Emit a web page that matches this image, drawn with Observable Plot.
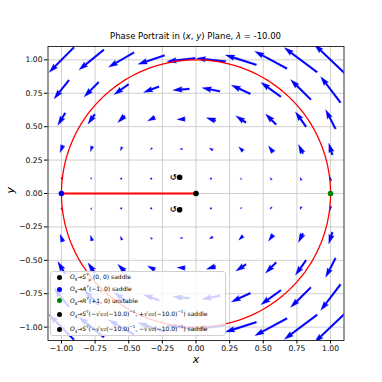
<!DOCTYPE html>
<html><head><meta charset="utf-8">
<script src="https://cdn.jsdelivr.net/npm/d3@7"></script>
<script src="https://cdn.jsdelivr.net/npm/@observablehq/plot@0.6"></script>
<style>
body{margin:0;background:#fff;font-family:"DejaVu Sans",sans-serif;}
#wrap{position:relative;width:382px;height:382px;overflow:hidden;}
#wrap svg{position:absolute;left:0;top:0;}
.t{position:absolute;white-space:nowrap;color:#000;}
#title{left:0;width:391px;top:31px;text-align:center;font-size:8.5px;}
#legend{position:absolute;left:50px;top:271px;width:176px;height:65px;background:rgba(255,255,255,0.8);border:1px solid #d0d0d0;border-radius:3px;box-sizing:border-box;}
.row{position:absolute;left:0;font-size:6px;line-height:6px;white-space:nowrap;}
.mk{position:absolute;left:6px;width:5px;height:5px;border-radius:50%;}
.lt{position:absolute;left:19px;}
sub,sup{font-size:4px;line-height:0;}
.fr{font-size:4px;}
</style></head><body><div id="wrap"><div id="title" class="t">Phase Portrait in (<i>x</i>, <i>y</i>) Plane, <i>λ</i> = -10.00</div></div>
<script>
// ---- data ----
const gridX = [-1, -0.778, -0.556, -0.333, -0.111, 0.111, 0.333, 0.556, 0.778, 1];
const gridY = [1, 0.778, 0.556, 0.333, 0.111, -0.111, -0.333, -0.556, -0.778, -1];
// arrow components (data units of displayed arrow length), one row per gridY
const U = [
  [-0.185,-0.186,-0.190,-0.198,-0.210,-0.219,-0.232,-0.240,-0.245,-0.240],
  [-0.112,-0.109,-0.110,-0.116,-0.124,-0.134,-0.142,-0.149,-0.151,-0.148],
  [-0.056,-0.052,-0.052,-0.056,-0.062,-0.070,-0.076,-0.080,-0.080,-0.074],
  [-0.021,-0.013,-0.012,-0.015,-0.021,-0.027,-0.033,-0.036,-0.034,-0.027],
  [-0.002, 0.006, 0.008, 0.005, 0.001,-0.006,-0.011,-0.013,-0.011,-0.003],
  [-0.002, 0.006, 0.008, 0.005, 0.001,-0.006,-0.011,-0.013,-0.011,-0.003],
  [-0.021,-0.013,-0.012,-0.015,-0.021,-0.027,-0.033,-0.036,-0.034,-0.027],
  [-0.056,-0.052,-0.052,-0.056,-0.062,-0.070,-0.076,-0.080,-0.080,-0.074],
  [-0.112,-0.109,-0.110,-0.116,-0.124,-0.134,-0.142,-0.149,-0.151,-0.148],
  [-0.185,-0.186,-0.190,-0.198,-0.210,-0.219,-0.232,-0.240,-0.245,-0.240]
];
const V = [
  [-0.188,-0.153,-0.111,-0.067,-0.024, 0.024, 0.074, 0.130, 0.184, 0.230],
  [-0.140,-0.110,-0.078,-0.044,-0.010, 0.027, 0.066, 0.108, 0.150, 0.195],
  [-0.093,-0.074,-0.052,-0.028,-0.003, 0.023, 0.051, 0.081, 0.112, 0.144],
  [-0.055,-0.042,-0.029,-0.015, 0.000, 0.016, 0.033, 0.050, 0.069, 0.088],
  [-0.018,-0.014,-0.009,-0.005, 0.001, 0.006, 0.011, 0.017, 0.023, 0.030],
  [ 0.018, 0.014, 0.009, 0.005,-0.001,-0.006,-0.011,-0.017,-0.023,-0.030],
  [ 0.055, 0.042, 0.029, 0.015, 0.000,-0.016,-0.033,-0.050,-0.069,-0.088],
  [ 0.093, 0.074, 0.052, 0.028, 0.003,-0.023,-0.051,-0.081,-0.112,-0.144],
  [ 0.140, 0.110, 0.078, 0.044, 0.010,-0.027,-0.066,-0.108,-0.150,-0.195],
  [ 0.188, 0.153, 0.111, 0.067, 0.024,-0.024,-0.074,-0.130,-0.184,-0.230]
];
const tickVals = [-1, -0.75, -0.5, -0.25, 0, 0.25, 0.5, 0.75, 1];
const eqX = [0, -1, 1, -0.122, -0.122];
const eqY = [0, 0, 0, 0.122, -0.122];
const eqColor = ["black", "blue", "green", "black", "black"];
const segX = [-1, 0];
const segY = [0, 0];
const circleRadius = 1;

// ---- layout ----
const W = 382, H = 382, ML = 47.5, MR = 38.5, MT = 46, MB = 42;
const xDom = [-1.1, 1.1], yDom = [-1.1, 1.1];
const kx = (W - ML - MR) / (xDom[1] - xDom[0]);
const ky = (H - MT - MB) / (yDom[1] - yDom[0]);
const qw = 1.9; // quiver shaft width (px)

function arrowShape(L) { // L in shaft-width units; matplotlib quiver geometry, pivot middle
  if (L < 1) {
    const p = [];
    for (let k = 0; k <= 6; k++) { const t = k * Math.PI / 3; p.push([0.5 * Math.cos(t), 0.5 * Math.sin(t)]); }
    return p;
  }
  let X, Y;
  if (L >= 5) {
    X = [0, L - 4.5, L - 5, L, L - 5, L - 4.5, 0, 0];
    Y = [0.5, 0.5, 1.5, 0, -1.5, -0.5, -0.5, 0.5];
  } else {
    const s = L / 5;
    X = [0, 0.5, 0, 5, 0, 0.5, 0, 0].map(d => d * s);
    Y = [0.5, 0.5, 1.5, 0, -1.5, -0.5, -0.5, 0.5].map(d => d * s);
  }
  const half = X[3] / 2;
  return X.map((x, i) => [x - half, Y[i]]);
}

const polys = [];
gridY.forEach((gy, j) => {
  gridX.forEach((gx, i) => {
    const u = U[j][i], v = V[j][i];
    const px = u * kx, py = -v * ky;
    const Lpx = Math.hypot(px, py);
    const a = Math.atan2(py, px);
    const ca = Math.cos(a), sa = Math.sin(a);
    arrowShape(Lpx / qw).forEach(([sx, sy]) => {
      const ox = (sx * ca - sy * sa) * qw, oy = (sx * sa + sy * ca) * qw;
      polys.push({id: j * 10 + i, x: gx + ox / kx, y: gy - oy / ky});
    });
  });
});

const circle = d3.range(0, 361, 2).map(t => ({x: circleRadius * Math.cos(t * Math.PI / 180), y: circleRadius * Math.sin(t * Math.PI / 180)}));
const seg = segX.map((x, i) => ({x, y: segY[i]}));
const eq = eqX.map((x, i) => ({x, y: eqY[i], c: eqColor[i]}));
const saddles = eq.slice(3);
const fmt = d3.format(".2f");

const chart = Plot.plot({
  width: W, height: H,
  marginLeft: ML, marginRight: MR, marginTop: MT, marginBottom: MB,
  style: {fontFamily: "DejaVu Sans", fontSize: "7.6px", background: "transparent", color: "black"},
  color: {type: "identity"},
  x: {domain: xDom, ticks: tickVals, tickFormat: fmt, tickSize: 3.5, tickPadding: 2, label: null},
  y: {domain: yDom, ticks: tickVals, tickFormat: fmt, tickSize: 3.5, tickPadding: 2, label: null},
  marks: [
    Plot.ruleX(tickVals, {stroke: "#c4c4c4", strokeWidth: 0.8}),
    Plot.ruleY(tickVals, {stroke: "#c4c4c4", strokeWidth: 0.8}),
    Plot.line(polys, {x: "x", y: "y", z: "id", fill: "blue", stroke: "blue", strokeWidth: 0.2, clip: true}),
    Plot.line(circle, {x: "x", y: "y", stroke: "red", strokeWidth: 1.3, clip: true}),
    Plot.line(seg, {x: "x", y: "y", stroke: "red", strokeWidth: 2}),
    Plot.dot(eq, {x: "x", y: "y", fill: "c", r: 2.8, stroke: "none"}),
    Plot.text(saddles, {x: "x", y: "y", text: () => "↺", dx: -6.5, fontSize: 8, fontWeight: "bold", fill: "black"}),
    Plot.frame({stroke: "black", strokeWidth: 0.8}),
    Plot.text(["x"], {frameAnchor: "bottom", dy: 22, text: d => d, fontSize: 11, fontStyle: "italic"}),
    Plot.text(["y"], {frameAnchor: "left", dx: -37.5, text: d => d, fontSize: 11, fontStyle: "italic", rotate: -90})
  ]
});
const wrap = document.getElementById("wrap");
wrap.insertBefore(chart, wrap.firstChild);

const legendRows = [
  {c: eqColor[0], top: 2, html: '<i>O</i><sub>5</sub>→<i>S</i><sup>Y</sup><sub>p</sub> (0, 0) saddle'},
  {c: eqColor[1], top: 14, html: '<i>O</i><sub>9</sub>→<i>A</i><sup>Y</sup>(−1, 0) saddle'},
  {c: eqColor[2], top: 25.5, html: '<i>O</i><sub>8</sub>→<i>R</i><sup>Y</sup>(+1, 0) unstable'},
  {c: eqColor[3], top: 39, html: '<i>O</i><sub>4</sub>→<i>S</i><sup>Y</sup>(−√<span class="fr">3/2</span>(−10.0)<sup>−1</sup>, +√<span class="fr">3/2</span>(−10.0)<sup>−1</sup>) saddle'},
  {c: eqColor[4], top: 54, html: '<i>O</i><sub>4</sub>→<i>S</i><sup>Y</sup>(−√<span class="fr">3/2</span>(−10.0)<sup>−1</sup>, −√<span class="fr">3/2</span>(−10.0)<sup>−1</sup>) saddle'}
];
const leg = document.createElement("div");
leg.id = "legend";
legendRows.forEach(r => {
  const row = document.createElement("div");
  row.className = "row";
  row.style.top = r.top + "px";
  row.innerHTML = `<span class="mk" style="background:${r.c};top:0.5px"></span><span class="lt">${r.html}</span>`;
  leg.appendChild(row);
});
wrap.appendChild(leg);
</script></body></html>
